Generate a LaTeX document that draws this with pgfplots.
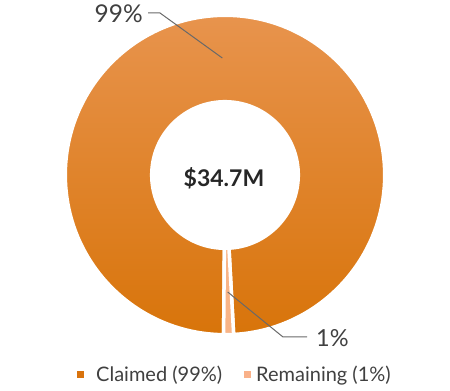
\documentclass[border=0pt]{standalone}
\usepackage{pgfplots}
\pgfplotsset{compat=1.18}
\usepackage{pgfplotstable}
\usetikzlibrary{calc}
\usepackage{fontspec}
\setmainfont{Lato}
\definecolor{claimTop}{RGB}{232,148,78}
\definecolor{claimMid}{RGB}{227,131,28}
\definecolor{claimBot}{RGB}{216,116,10}
\definecolor{remain}{RGB}{248,180,135}
\definecolor{legclaim}{RGB}{217,115,13}
\definecolor{legremain}{RGB}{249,177,137}
\definecolor{txt}{RGB}{64,64,64}
\definecolor{lead}{RGB}{105,105,105}

\pgfplotstableread{
label value
Claimed 99
Remaining 1
}\piedata

\begin{document}
\begin{tikzpicture}
\path[use as bounding box] (0,0) rectangle (450bp,391bp);
\pgfplotstablegetelem{0}{value}\of\piedata \let\vA\pgfplotsretval
\pgfplotstablegetelem{1}{value}\of\piedata \let\vB\pgfplotsretval
\pgfmathsetmacro{\tot}{\vA+\vB}
\pgfmathsetmacro{\aS}{269.5}
\pgfmathsetmacro{\aM}{\aS+360*\vB/\tot}
\pgfmathsetmacro{\aE}{\aS+360}
\pgfmathsetmacro{\midB}{(\aS+\aM)/2}
\pgfmathsetmacro{\midA}{(\aM+\aE)/2}
\begin{axis}[at={(0,0)},anchor=south west,width=450bp,height=391bp,scale only axis,
  xmin=0,xmax=450,ymin=0,ymax=391,hide axis,clip=false]
\addplot[draw=none,forget plot] coordinates {(0,0) (450,391)};
% claimed slice
\fill[top color=claimTop,middle color=claimMid,bottom color=claimBot,draw=white,line width=3.5bp]
  ($(axis cs:225,216)+(\aM:159.7bp)$) arc[start angle=\aM,end angle=\aE,radius=159.7bp]
  -- ($(axis cs:225,216)+(\aE:73.3bp)$) arc[start angle=\aE,end angle=\aM,radius=73.3bp] -- cycle;
% remaining slice
\fill[remain,draw=white,line width=3.5bp]
  ($(axis cs:225,216)+(\aS:159.7bp)$) arc[start angle=\aS,end angle=\aM,radius=159.7bp]
  -- ($(axis cs:225,216)+(\aM:73.3bp)$) arc[start angle=\aM,end angle=\aS,radius=73.3bp] -- cycle;
% centre text
\node[font=\bfseries\fontsize{23bp}{26bp}\selectfont,text=black!85] at (axis cs:224,212.5) {\$34.7M};
% leader lines
\draw[lead,line width=1bp] ($(axis cs:225,216)+(\midA:117bp)$) -- (axis cs:160,378) -- (axis cs:148,378);
\node[anchor=east,inner sep=0pt,text=txt,font=\fontsize{24.5bp}{27bp}\selectfont] at (axis cs:143,377) {99\%};
\draw[lead,line width=1bp] ($(axis cs:225,216)+(\midB:117bp)$) -- (axis cs:283,54) -- (axis cs:307,54);
\node[anchor=west,inner sep=0pt,text=txt,font=\fontsize{23.5bp}{26bp}\selectfont] at (axis cs:316,53) {1\%};
% legend
\fill[legclaim] (axis cs:77,13) rectangle (axis cs:84,20);
\node[anchor=base west,inner sep=0pt,text=txt,font=\fontsize{20bp}{24bp}\selectfont] at (axis cs:96,10) {Claimed (99\%)};
\fill[legremain] (axis cs:244,13) rectangle (axis cs:251,20);
\node[anchor=base west,inner sep=0pt,text=txt,font=\fontsize{20bp}{24bp}\selectfont] at (axis cs:256,10) {Remaining (1\%)};
\end{axis}
\end{tikzpicture}
\end{document}
